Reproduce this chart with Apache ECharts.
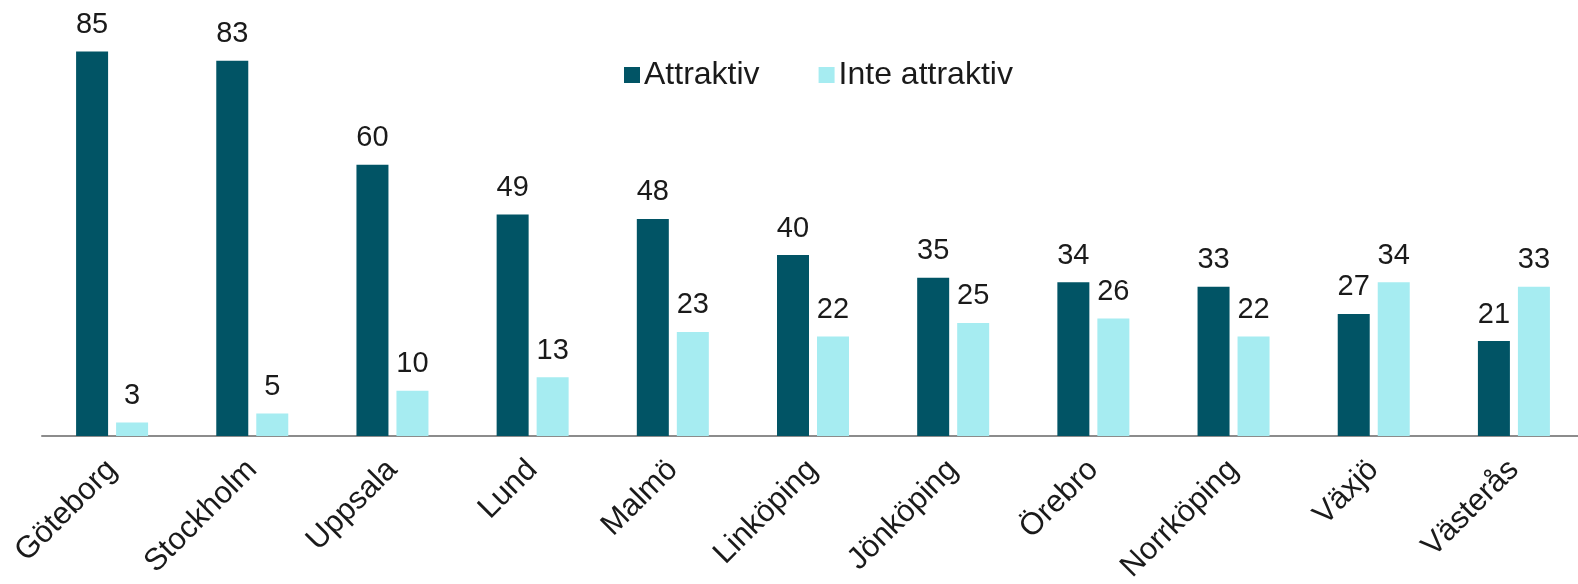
<!DOCTYPE html>
<html>
<head>
<meta charset="utf-8">
<script src="https://cdn.jsdelivr.net/npm/echarts@6/dist/echarts.min.js"></script>
<style>
  html, body { margin: 0; padding: 0; background: #fff; }
  #chart { width: 1578px; height: 584px; }
</style>
</head>
<body>
<div id="chart"></div>
<script>
var cities = ['Göteborg', 'Stockholm', 'Uppsala', 'Lund', 'Malmö', 'Linköping', 'Jönköping', 'Örebro', 'Norrköping', 'Växjö', 'Västerås'];
var attraktiv = [85, 83, 60, 49, 48, 40, 35, 34, 33, 27, 21];
var inteAttraktiv = [3, 5, 10, 13, 23, 22, 25, 26, 22, 34, 33];

var font = 'Liberation Sans, Arial, sans-serif';
var chart = echarts.init(document.getElementById('chart'));

var labelStyle = {
    show: true,
    position: 'top',
    distance: 12,
    color: '#1a1a1a',
    fontSize: 29,
    fontFamily: font
};

chart.setOption({
    animation: false,
    backgroundColor: '#fff',
    legend: {
        left: 619,
        top: 54,
        itemWidth: 16,
        itemHeight: 16,
        itemGap: 59,
        icon: 'rect',
        textStyle: { fontSize: 32, color: '#1a1a1a', fontFamily: font, padding: [0, 0, 0, -1] },
        data: ['Attraktiv', 'Inte attraktiv']
    },
    grid: { left: 42, right: -6, top: 29, bottom: 148, containLabel: false, outerBoundsMode: 'none' },
    xAxis: {
        type: 'category',
        data: cities,
        axisLine: { lineStyle: { color: '#8c8c8c', width: 2 } },
        axisTick: { show: false },
        axisLabel: { rotate: 45, margin: 29, fontSize: 31, color: '#1a1a1a', fontFamily: font, interval: 0 }
    },
    yAxis: {
        type: 'value',
        min: 0,
        max: 90,
        show: false,
        splitLine: { show: false }
    },
    series: [{
        name: 'Attraktiv',
        type: 'bar',
        data: attraktiv,
        barWidth: 32,
        barGap: '25%',
        itemStyle: { color: '#015465' },
        label: labelStyle
    }, {
        name: 'Inte attraktiv',
        type: 'bar',
        data: inteAttraktiv,
        barWidth: 32,
        itemStyle: { color: '#a6ecf1' },
        label: labelStyle
    }]
});
</script>
</body>
</html>
